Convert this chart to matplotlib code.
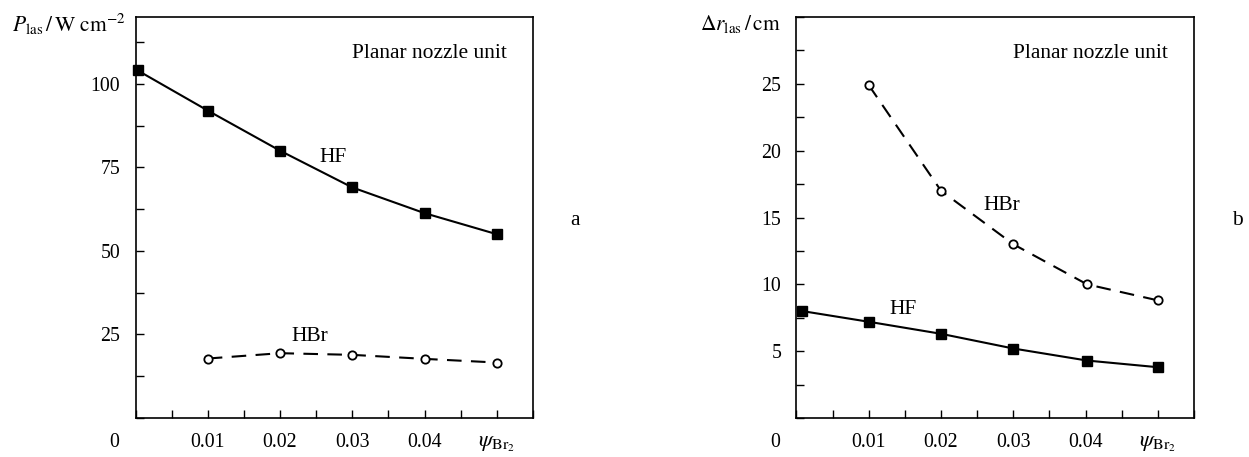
import matplotlib
matplotlib.use("Agg")
import matplotlib.pyplot as plt
from matplotlib.ticker import MultipleLocator, FixedLocator

plt.rcParams['font.family'] = ['Liberation Serif', 'DejaVu Serif']
plt.rcParams['mathtext.fontset'] = 'stix'

# Panel a: lasing power density
x_a_hf = [0.0003, 0.01, 0.02, 0.03, 0.04, 0.05]
p_hf = [104, 92, 80, 69, 61.3, 55]
x_a_hbr = [0.01, 0.02, 0.03, 0.04, 0.05]
p_hbr = [17.8, 19.4, 18.9, 17.7, 16.6]

# Panel b: lasing zone length
x_b_hf = [0.0008, 0.01, 0.02, 0.03, 0.0402, 0.05]
r_hf = [8.0, 7.2, 6.3, 5.2, 4.3, 3.8]
x_b_hbr = [0.01, 0.02, 0.03, 0.0402, 0.05]
r_hbr = [24.9, 17.0, 13.0, 10.0, 8.8]

xtick_vals = [0.01, 0.02, 0.03, 0.04, 0.05]
xtick_labels = ['0.01', '0.02', '0.03', '0.04', r'$\psi_{\mathrm{Br}_2}$']

FS_TICK = 14.3
FS_TXT = 15.5
fig = plt.figure(figsize=(12.49, 4.57), dpi=100)
axA = fig.add_axes([0.1085, 0.0853, 0.3182, 0.8775])
axB = fig.add_axes([0.6377, 0.0853, 0.3183, 0.8775])

def style(ax, ymax, ymajor, yminor):
    ax.set_xlim(0, 0.055)
    ax.set_ylim(0, ymax)
    ax.xaxis.set_major_locator(FixedLocator(xtick_vals))
    ax.set_xticklabels(xtick_labels)
    ax.xaxis.set_minor_locator(MultipleLocator(0.005))
    ax.yaxis.set_major_locator(FixedLocator([v for v in
        [ymajor * k for k in range(1, 20)] if v < ymax]))
    ax.yaxis.set_minor_locator(MultipleLocator(yminor))
    ax.tick_params(which='both', direction='in', length=6, width=1.0,
                   labelsize=FS_TICK, top=False, right=False)
    ax.tick_params(axis='x', which='major', pad=11)
    ax.tick_params(axis='y', which='major', pad=11)
    ax.get_xticklabels()[-1].set_fontsize(16.5)
    for s in ax.spines.values():
        s.set_linewidth(1.2)
    ax.annotate('0', xy=(0, 0), xycoords='data', xytext=(-21, -24),
                textcoords='offset pixels', fontsize=FS_TICK, ha='center', va='center')
    ax.text(0.935, 0.91, 'Planar nozzle unit', transform=ax.transAxes,
            fontsize=FS_TXT, ha='right', va='center')

style(axA, 120, 25, 12.5)
style(axB, 30, 5, 2.5)

lw = 1.5
dash = (0, (7, 4.5))
axA.plot(x_a_hf, p_hf, '-', color='black', lw=lw, marker='s', ms=6.5,
         mfc='black', mec='black', clip_on=False)
axA.plot(x_a_hbr, p_hbr, color='black', lw=lw, ls=dash, marker='o', ms=6,
         mfc='white', mec='black', mew=1.3)
axA.text(0.0254, 78, 'HF', fontsize=FS_TXT, ha='left', va='center')
axA.text(0.0216, 24.5, 'HBr', fontsize=FS_TXT, ha='left', va='center')

axB.plot(x_b_hf, r_hf, '-', color='black', lw=lw, marker='s', ms=6.5,
         mfc='black', mec='black', clip_on=False)
axB.plot(x_b_hbr, r_hbr, color='black', lw=lw, ls=dash, marker='o', ms=6,
         mfc='white', mec='black', mew=1.3)
axB.text(0.0128, 8.1, 'HF', fontsize=FS_TXT, ha='left', va='center')
axB.text(0.0258, 15.9, 'HBr', fontsize=FS_TXT, ha='left', va='center')

fig.text(12 / 1249, 1 - 24 / 457, r'$P_{\mathrm{las}}\,/\,\mathrm{W\ cm}^{-2}$', fontsize=FS_TXT,
         ha='left', va='center')
fig.text(700 / 1249, 1 - 24 / 457, r'$\Delta r_{\mathrm{las}}\,/\,\mathrm{cm}$', fontsize=FS_TXT,
         ha='left', va='center')
fig.text(575 / 1249, 1 - 220 / 457, 'a', fontsize=FS_TXT, ha='center', va='center')
fig.text(1237 / 1249, 1 - 220 / 457, 'b', fontsize=FS_TXT, ha='center', va='center')

fig.savefig('out.png', dpi=100)
